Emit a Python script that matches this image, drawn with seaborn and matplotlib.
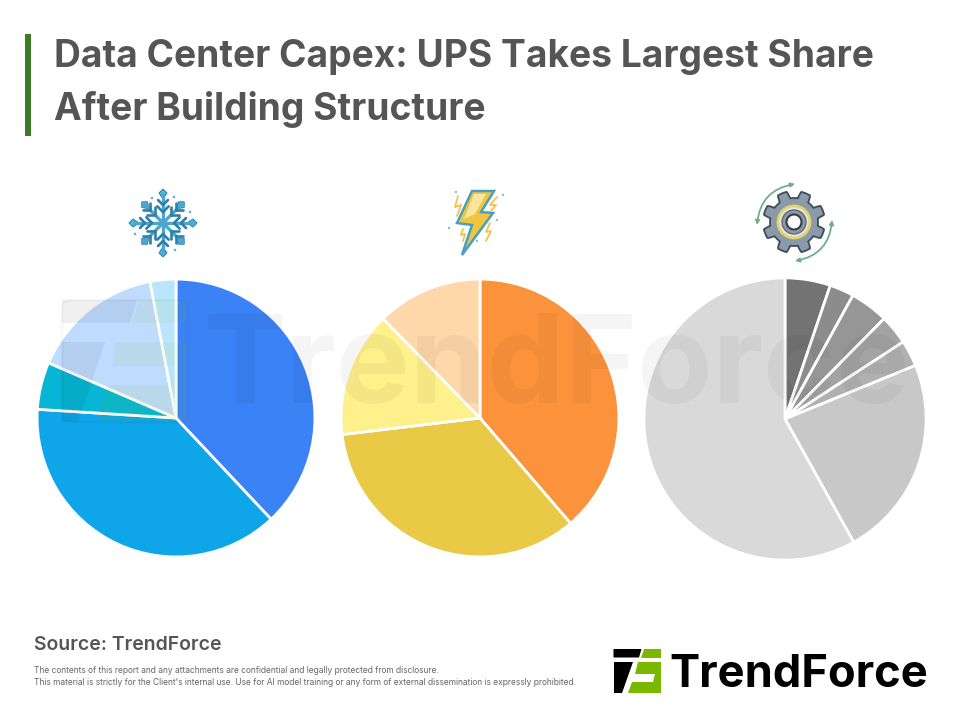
import numpy as np
import matplotlib
matplotlib.use('Agg')
import matplotlib.pyplot as plt
import seaborn as sns
from matplotlib.patches import Polygon, Rectangle, Circle, FancyBboxPatch, FancyArrowPatch

# Share of each slice (clockwise from 12 o'clock)
cooling_values = [38.0, 38.0, 5.5, 15.5, 3.0]
power_values = [38.7, 34.4, 14.6, 12.3]
other_values = [5.2, 2.8, 4.4, 3.4, 3.0, 23.1, 58.1]

cooling_colors = ['#3B82F6', '#0EA5E9', '#06B6D4', '#BFDBFE', '#BAE6FD']
power_colors = ['#FB923C', '#EAC947', '#FEF08A', '#FED7AA']
other_colors = ['#737373', '#8C8C8C', '#969696', '#A3A3A3', '#B0B0B0', '#C8C8C8', '#D9D9D9']

title_lines = ['Data Center Capex: UPS Takes Largest Share', 'After Building Structure']
source_text = 'Source: TrendForce'
note_lines = ["The contents of this report and any attachments are confidential and legally protected from disclosure.",
              "This material is strictly for the Client's internal use. Use for AI model training or any form of external dissemination is expressly prohibited."]
brand = 'TrendForce'

sns.set_theme(style='white')
plt.rcParams['font.family'] = ['Inter', 'DejaVu Sans']

fig = plt.figure(figsize=(9.6, 7.2), dpi=100, facecolor='white')


def draw_pie(values, colors, cx, cy, r):
    ax = fig.add_axes([(cx - r) / 960, (720 - cy - r) / 720, 2 * r / 960, 2 * r / 720])
    ax.pie(values, colors=sns.color_palette(colors), startangle=90, counterclock=False,
           radius=1, wedgeprops={'edgecolor': 'white', 'linewidth': 2})
    ax.set_xlim(-1.01, 1.01)
    ax.set_ylim(-1.01, 1.01)
    return ax


draw_pie(cooling_values, cooling_colors, 176, 418, 140.3)
draw_pie(power_values, power_colors, 480, 418, 140.3)
draw_pie(other_values, other_colors, 785, 419, 142.5)

# Overlay in pixel coordinates for text, icons and logos
over = fig.add_axes([0, 0, 1, 1], zorder=5)
over.set_xlim(0, 960)
over.set_ylim(720, 0)
over.axis('off')
over.patch.set_alpha(0)

# Title block
over.add_patch(Rectangle((25, 34), 6, 102, color='#3F7A28', lw=0))
for y, line in zip([67, 120], title_lines):
    over.text(54, y, line, fontsize=26.75, fontweight='bold', color='#555555', va='baseline', ha='left')

# Watermark
over.text(204, 403, brand, fontsize=89, fontweight='bold', color='black', alpha=0.04, va='baseline', ha='left')
over.add_patch(FancyBboxPatch((66, 304), 118, 114, boxstyle='round,pad=4,rounding_size=10',
                              fc='none', ec='black', alpha=0.03, lw=2))
for pts, col, al in [([(62, 300), (137, 300), (130, 323), (62, 323)], 'black', 0.06),
                     ([(62, 342), (105, 342), (78, 422), (62, 422)], 'black', 0.06),
                     ([(139, 300), (188, 300), (188, 323), (132, 323)], '#7AB800', 0.07),
                     ([(116, 342), (188, 342), (188, 422), (98, 422), (107, 385), (170, 385), (176, 366), (112, 366)], '#7AB800', 0.07)]:
    over.add_patch(Polygon(pts, closed=True, fc=col, alpha=al, lw=0))

# Snowflake icon
sx, sy = 163, 223
for a in np.arange(0, 360, 45):
    c, s = np.cos(np.radians(a)), np.sin(np.radians(a))
    over.plot([sx, sx + 28 * c], [sy, sy + 28 * s], color='#4BA8CC', lw=2.4, solid_capstyle='round')
    for d, w in [(11, 8), (18, 7)]:
        px, py = sx + d * c, sy + d * s
        for sign in (1, -1):
            rot = np.radians(a + sign * 45)
            over.plot([px, px + w * np.cos(rot)], [py, py + w * np.sin(rot)], color='#2F7FA8', lw=1.9)
    tip = 30 if a % 90 == 0 else 26
    over.add_patch(Polygon([(sx + (tip + 4) * c, sy + (tip + 4) * s),
                            (sx + tip * c - 4 * s, sy + tip * s + 4 * c),
                            (sx + (tip - 6) * c, sy + (tip - 6) * s),
                            (sx + tip * c + 4 * s, sy + tip * s - 4 * c)], fc='#4DB4D8', ec='#2F7FA8', lw=0.7))
over.add_patch(Circle((sx, sy), 4.5, fc='#A5E2EE', lw=0))
for px, py in [(152, 198), (190, 212), (135, 234), (175, 250), (174, 197)]:
    over.add_patch(Circle((px, py), 1.3, fc='#5FB4D2', lw=0))

# Lightning icon
bolt = [(472, 191), (494, 191), (481, 212), (493, 213), (462, 255), (472, 225), (457, 223)]
over.add_patch(Polygon(bolt, closed=True, fc='#F0C63F', ec='#4A9FC0', lw=1.8, joinstyle='miter'))
over.add_patch(Polygon([(474, 194), (486, 194), (475, 214), (464, 219)], fc='#F8E6A0', lw=0))
for pts in [[(458, 196), (455, 207), (461, 205), (457, 216)], [(497, 197), (490, 205), (496, 205), (491, 211)],
            [(490, 223), (486, 232), (491, 231), (486, 241)], [(463, 229), (461, 235), (465, 234), (463, 241)]]:
    over.plot(*zip(*pts), color='#F2C14E', lw=1.3)
for px, py in [(456, 192), (503, 195), (497, 220), (449, 228), (477, 241)]:
    over.add_patch(Circle((px, py), 1.1, fc='#7FB5CC', lw=0))

# Gear icon
gx, gy = 794, 222
ang = np.linspace(0, 2 * np.pi, 361)
teeth = 27.5 + 3.5 * np.clip(3.2 * np.cos(8 * (ang + np.pi / 8)), -1, 1)
over.add_patch(Polygon(np.c_[gx + teeth * np.cos(ang), gy + teeth * np.sin(ang)], closed=True,
                       fc='#8A9AA8', ec='#3F4D5A', lw=1.3))
over.add_patch(Circle((gx, gy), 16, fc='#E4E8EB', ec='#E5D36A', lw=2))
over.add_patch(Circle((gx, gy), 12, fc='#8D99A4', ec='#5F6C78', lw=1))
over.add_patch(Circle((gx, gy), 7.5, fc='white', ec='#333F4A', lw=1.5))
for start, end in [((757, 225), (795, 184)), ((832, 220), (795, 261))]:
    over.add_patch(FancyArrowPatch(start, end, connectionstyle='arc3,rad=-0.38', arrowstyle='<|-|>',
                                   mutation_scale=6, color='#6FAE8E', lw=1.3, shrinkA=0, shrinkB=0))

# Footer
over.text(34, 650, source_text, fontsize=14, fontweight='semibold', color='#555555', va='baseline', ha='left')
for y, line in zip([670.5, 682.5], note_lines):
    over.text(34, y, line, fontsize=6.06, color='#666666', va='center', ha='left')

# TrendForce logo
for pts, col in [([(613.5, 649), (641.5, 649), (639, 657.5), (613.5, 657.5)], 'black'),
                 ([(614, 662), (633, 662), (622, 693), (614, 693)], 'black'),
                 ([(643.5, 649), (661, 649), (661, 657.5), (641, 657.5)], '#7AB800'),
                 ([(638, 662), (661, 662), (661, 693), (628, 693), (632, 682), (653, 682), (655, 674), (635, 674)], '#7AB800')]:
    over.add_patch(Polygon(pts, closed=True, fc=col, lw=0))
over.text(669, 687, brand, fontsize=32.6, fontweight='bold', color='black', va='baseline', ha='left')

fig.savefig('out.png', dpi=100)
